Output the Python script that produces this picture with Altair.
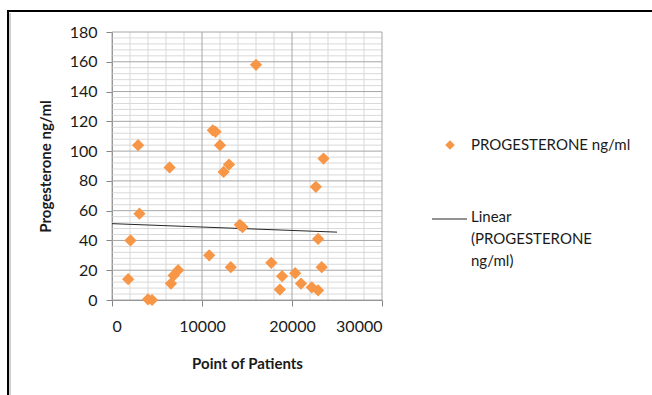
import altair as alt
import pandas as pd

# Patient position vs. progesterone level (ng/ml)
patient_point = [2900, 6400, 11200, 11500, 12000, 12400, 13000, 16000, 23500, 22650,
                 3050, 2050, 1800, 4000, 4450, 6550, 6850, 7350, 10800, 13200,
                 14200, 14500, 17700, 18900, 18650, 20350, 21000, 22200, 22900, 22900, 23300]
progesterone = [104, 89, 114, 113, 104, 86, 91, 158, 95, 76,
                58, 40, 14, 0.5, 0, 11, 16.5, 20, 30, 22,
                50.5, 49, 25, 16, 7, 18, 11, 8.5, 6.5, 41, 22]

x_ticks = [0, 10000, 20000, 30000]
y_ticks = [0, 20, 40, 60, 80, 100, 120, 140, 160, 180]
x_minor = [v for v in range(0, 30001, 2000) if v not in x_ticks]
y_minor = [v for v in range(0, 181, 4) if v not in y_ticks]

series_name = "PROGESTERONE ng/ml"
trend_name = ["Linear", "(PROGESTERONE", "ng/ml)"]

FONT = "Lato"
ORANGE = "#F79646"
W, H = 270, 268
PAD_L, PAD_T = 112, 32

df = pd.DataFrame({"x": patient_point, "y": progesterone})

xs = alt.Scale(domain=[0, 30000], nice=False)
ys = alt.Scale(domain=[0, 180], nice=False)
x_axis = alt.Axis(values=x_ticks, title="Point of Patients", grid=False,
                  labelPadding=12, titlePadding=22, format="d")
y_axis = alt.Axis(values=y_ticks, title="Progesterone ng/ml", grid=False,
                  labelPadding=9, titlePadding=16)

minor_x = alt.Chart(pd.DataFrame({"x": x_minor})).mark_rule(
    color="#d9d9d9", strokeWidth=1
).encode(x=alt.X("x:Q", scale=xs, axis=x_axis))
minor_y = alt.Chart(pd.DataFrame({"y": y_minor})).mark_rule(
    color="#d9d9d9", strokeWidth=1
).encode(y=alt.Y("y:Q", scale=ys, axis=y_axis))
major_x = alt.Chart(pd.DataFrame({"x": x_ticks})).mark_rule(
    color="#a6a6a6", strokeWidth=1
).encode(x=alt.X("x:Q", scale=xs, axis=x_axis))
major_y = alt.Chart(pd.DataFrame({"y": y_ticks})).mark_rule(
    color="#a6a6a6", strokeWidth=1
).encode(y=alt.Y("y:Q", scale=ys, axis=y_axis))

points = alt.Chart(df).mark_point(
    shape="diamond", filled=True, size=150, color=ORANGE, opacity=1
).encode(
    x=alt.X("x:Q", scale=xs, axis=x_axis),
    y=alt.Y("y:Q", scale=ys, axis=y_axis),
)

trend = alt.Chart(df).transform_regression(
    "x", "y", extent=[0, 25000]
).mark_line(color="#262626", strokeWidth=1).encode(
    x=alt.X("x:Q", scale=xs, axis=x_axis), y=alt.Y("y:Q", scale=ys, axis=y_axis)
)

# legend
leg_symbol = alt.Chart(pd.DataFrame({"t": [series_name]})).mark_point(
    shape="diamond", filled=True, size=90, color=ORANGE, opacity=1
).encode(x=alt.value(338), y=alt.value(113))
leg_label = alt.Chart(pd.DataFrame({"t": [series_name]})).mark_text(
    align="left", baseline="middle", font=FONT, fontSize=15, color="#1a1a1a"
).encode(x=alt.value(359), y=alt.value(113), text="t:N")
leg_line = alt.Chart(pd.DataFrame({"t": ["trend"]})).mark_rule(
    color="#262626", strokeWidth=1
).encode(x=alt.value(320), x2=alt.value(355), y=alt.value(187))
leg_trend = alt.Chart(pd.DataFrame({"t": ["trend"]})).mark_text(
    align="left", baseline="top", font=FONT, fontSize=15, lineHeight=22,
    color="#1a1a1a"
).encode(x=alt.value(359), y=alt.value(178), text=alt.value(trend_name))

# outer frame
frame_top = alt.Chart(pd.DataFrame({"t": ["f"]})).mark_rule(
    color="#000000", strokeWidth=2
).encode(x=alt.value(8 - PAD_L), x2=alt.value(652 - PAD_L), y=alt.value(11 - PAD_T))
frame_left = alt.Chart(pd.DataFrame({"t": ["f"]})).mark_rule(
    color="#000000", strokeWidth=2
).encode(x=alt.value(8 - PAD_L), y=alt.value(10 - PAD_T), y2=alt.value(395 - PAD_T))
frame_left_in = alt.Chart(pd.DataFrame({"t": ["f"]})).mark_rule(
    color="#a0a0a0", strokeWidth=1
).encode(x=alt.value(10 - PAD_L), y=alt.value(13 - PAD_T), y2=alt.value(395 - PAD_T))

chart = alt.layer(
    minor_x, minor_y, major_x, major_y, trend, points,
    leg_symbol, leg_label, leg_line, leg_trend,
    frame_top, frame_left, frame_left_in,
).properties(
    width=W, height=H,
    background="white",
    autosize=alt.AutoSizeParams(type="none"),
    padding={"left": PAD_L, "top": PAD_T, "right": 652 - PAD_L - W, "bottom": 395 - PAD_T - H},
).configure_view(stroke=None).configure_axis(
    labelFont=FONT, titleFont=FONT, labelFontSize=16, titleFontSize=15,
    labelColor="#1a1a1a", titleColor="#1a1a1a", titleFontWeight="bold",
    domainColor="#868686", tickColor="#868686", tickSize=6,
)

chart.save("out.html", embed_options={"renderer": "svg", "actions": False})
